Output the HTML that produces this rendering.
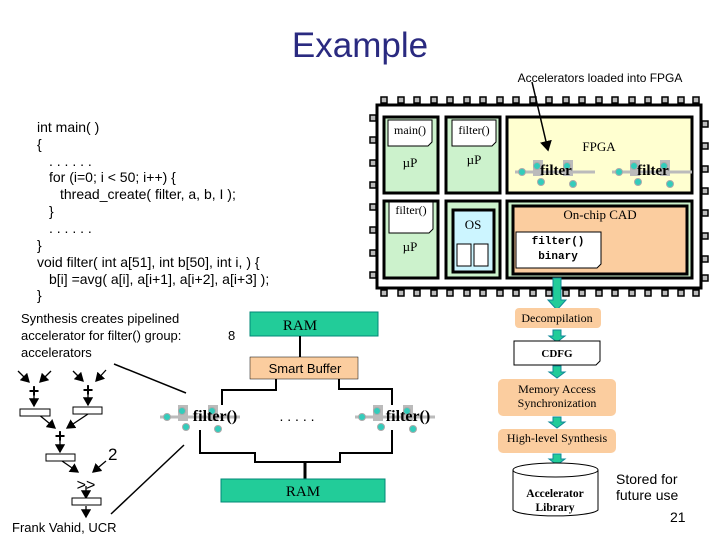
<!DOCTYPE html>
<html><head><meta charset="utf-8"><style>
html,body{margin:0;padding:0;background:#fff;}
svg{display:block;}
text{font-family:"Liberation Sans",sans-serif;}
text.s{font-family:"Liberation Serif",serif;}
text.m{font-family:"Liberation Mono",monospace;}
</style></head><body>
<svg width="720" height="540" viewBox="0 0 720 540" xmlns="http://www.w3.org/2000/svg">
<defs>
<marker id="ah" markerWidth="8" markerHeight="8" refX="6" refY="4" orient="auto"><path d="M0,0 L7,4 L0,8 z" fill="#000"/></marker>
<g id="fnode">
  <rect x="-22" y="-10" width="10" height="16" fill="#bbb"/>
  <rect x="8" y="-10" width="10" height="16" fill="#bbb"/>
  <line x1="-40" y1="2" x2="40" y2="2" stroke="#bbb" stroke-width="3"/>
  <circle cx="-33" cy="2" r="3.5" fill="#3cb" stroke="#aaa"/>
  <circle cx="-18" cy="-4" r="3.5" fill="#3cb" stroke="#aaa"/>
  <circle cx="-14" cy="12" r="3.5" fill="#3cb" stroke="#aaa"/>
  <circle cx="12" cy="-4" r="3.5" fill="#3cb" stroke="#aaa"/>
  <circle cx="18" cy="14" r="3.5" fill="#3cb" stroke="#aaa"/>
</g>
</defs>

<text x="360" y="57" font-size="35" fill="#2a2a80" text-anchor="middle">Example</text>
<text x="600" y="82" font-size="12" text-anchor="middle">Accelerators loaded into FPGA</text>

<g font-size="14">
<text x="37" y="132">int main( )</text>
<text x="37" y="149">{</text>
<text x="49" y="166">. . . . . .</text>
<text x="49" y="182">for (i=0; i &lt; 50; i++) {</text>
<text x="60" y="199">thread_create( filter, a, b, I );</text>
<text x="49" y="216">}</text>
<text x="49" y="233">. . . . . .</text>
<text x="37" y="250">}</text>
<text x="37" y="267">void filter( int a[51], int b[50], int i, ) {</text>
<text x="49" y="284">b[i] =avg( a[i], a[i+1], a[i+2], a[i+3] );</text>
<text x="37" y="300">}</text>
</g>

<g fill="#bbb" stroke="#000" stroke-width="1.5">
<g id="toppins">
<rect x="381" y="97" width="6" height="6"/><rect x="398" y="97" width="6" height="6"/><rect x="414" y="97" width="6" height="6"/><rect x="431" y="97" width="6" height="6"/><rect x="447" y="97" width="6" height="6"/><rect x="464" y="97" width="6" height="6"/><rect x="480" y="97" width="6" height="6"/><rect x="497" y="97" width="6" height="6"/><rect x="513" y="97" width="6" height="6"/><rect x="530" y="97" width="6" height="6"/><rect x="546" y="97" width="6" height="6"/><rect x="563" y="97" width="6" height="6"/><rect x="579" y="97" width="6" height="6"/><rect x="596" y="97" width="6" height="6"/><rect x="612" y="97" width="6" height="6"/><rect x="629" y="97" width="6" height="6"/><rect x="645" y="97" width="6" height="6"/><rect x="662" y="97" width="6" height="6"/><rect x="678" y="97" width="6" height="6"/><rect x="693" y="97" width="6" height="6"/>
</g>
<use href="#toppins" y="193"/>
<rect x="370" y="115" width="6" height="6"/><rect x="370" y="137" width="6" height="6"/><rect x="370" y="160" width="6" height="6"/><rect x="370" y="182" width="6" height="6"/><rect x="370" y="204" width="6" height="6"/><rect x="370" y="227" width="6" height="6"/><rect x="370" y="250" width="6" height="6"/><rect x="370" y="272" width="6" height="6"/>
<rect x="702" y="121" width="6" height="6"/><rect x="702" y="143" width="6" height="6"/><rect x="702" y="166" width="6" height="6"/><rect x="702" y="188" width="6" height="6"/><rect x="702" y="210" width="6" height="6"/><rect x="702" y="233" width="6" height="6"/><rect x="702" y="256" width="6" height="6"/><rect x="702" y="275" width="6" height="6"/>
</g>
<rect x="377" y="105" width="324" height="183" fill="#fff" stroke="#000" stroke-width="3"/>

<g stroke="#000" stroke-width="3">
<rect x="384" y="117" width="54" height="76" fill="#ccf2cc"/>
<rect x="446" y="117" width="54" height="76" fill="#ccf2cc"/>
<rect x="507" y="117" width="185" height="76" fill="#ffffd0"/>
<rect x="384" y="201" width="54" height="77" fill="#ccf2cc"/>
<rect x="446" y="201" width="54" height="77" fill="#ccf2cc"/>
<rect x="453" y="210" width="41" height="62" fill="#ccf5ff"/>
<rect x="507" y="201" width="185" height="77" fill="#ccf2cc"/>
<rect x="513" y="206" width="174" height="68" fill="#fbcd9f"/>
</g>
<g fill="#fff" stroke="#000" stroke-width="1">
<path d="M388,120 H432 V142 L428,146 H388 Z"/>
<path d="M452,120 H496 V142 L492,146 H452 Z"/>
<path d="M389,202 H433 V229 L429,233 H389 Z"/>
<path d="M516,232 H601 V264 L597,268 H516 Z"/>
<rect x="457" y="244" width="14" height="22"/><rect x="474" y="244" width="14" height="22"/>
</g>
<g font-size="12" text-anchor="middle">
<text x="410" y="134" class="s">main()</text>
<text x="474" y="134" class="s">filter()</text>
<text x="411" y="214" class="s">filter()</text>
<text x="410" y="167" class="s" font-size="13">µP</text>
<text x="474" y="164" class="s" font-size="13">µP</text>
<text x="410" y="251" class="s" font-size="13">µP</text>
<text x="473" y="229" class="s" font-size="13">OS</text>
<text x="599" y="151" class="s" font-size="13">FPGA</text>
<text x="600" y="219" class="s" font-size="13">On-chip CAD</text>
</g>
<text x="558" y="244" class="m" font-size="11" font-weight="bold" text-anchor="middle">filter()</text>
<text x="558" y="259" class="m" font-size="11" font-weight="bold" text-anchor="middle">binary</text>
<use href="#fnode" x="555" y="170"/>
<use href="#fnode" x="652" y="170"/>
<text x="556" y="175" class="s" font-size="15" font-weight="bold" text-anchor="middle">filter</text>
<text x="653" y="175" class="s" font-size="15" font-weight="bold" text-anchor="middle">filter</text>
<line x1="532" y1="82" x2="548" y2="150" stroke="#000" stroke-width="1.5" marker-end="url(#ah)"/>

<g fill="#2c9" stroke="#189">
<path d="M553,278 H561 V300 H566 L557,310 L548,300 H553 Z"/>
<path d="M553,330 H561 V336 H565 L557,342 L549,336 H553 Z"/>
<path d="M553,366 H561 V372 H565 L557,378 L549,372 H553 Z"/>
<path d="M553,417 H561 V422 H565 L557,428 L549,422 H553 Z"/>
<path d="M553,454 H561 V459 H565 L557,465 L549,459 H553 Z"/>
</g>
<g fill="#fbcd9f">
<rect x="515" y="308" width="86" height="20" rx="4"/>
<rect x="498" y="379" width="118" height="37" rx="5"/>
<rect x="498" y="429" width="118" height="24" rx="5"/>
</g>
<path d="M514,341 H600 V361 L596,365 H514 Z" fill="#fff" stroke="#000"/>
<g text-anchor="middle" font-size="12">
<text x="557" y="322" class="s">Decompilation</text>
<text x="557" y="357" class="s" font-weight="bold" font-size="11">CDFG</text>
<text x="557" y="393" class="s">Memory Access</text>
<text x="557" y="407" class="s">Synchronization</text>
<text x="557" y="442" class="s">High-level Synthesis</text>
</g>
<path d="M513,470 V510 A43,7 0 0 0 598,510 V470" fill="#fff" stroke="#000"/>
<ellipse cx="555.5" cy="470" rx="42.5" ry="7" fill="#fff" stroke="#000"/>
<text x="555" y="497" class="s" font-size="11.5" font-weight="bold" text-anchor="middle">Accelerator</text>
<text x="555" y="511" class="s" font-size="11.5" font-weight="bold" text-anchor="middle">Library</text>
<text x="616" y="484" font-size="14">Stored for</text>
<text x="616" y="500" font-size="14">future use</text>
<text x="670" y="522" font-size="14">21</text>

<text x="21" y="323" font-size="13">Synthesis creates pipelined</text>
<text x="21" y="340" font-size="13">accelerator for filter() group:</text>
<text x="21" y="357" font-size="13">accelerators</text>
<text x="228" y="340" font-size="13">8</text>
<rect x="250" y="312" width="128" height="24" fill="#2c9" stroke="#087"/>
<text x="300" y="330" class="s" font-size="15" text-anchor="middle">RAM</text>
<line x1="300" y1="336" x2="300" y2="357" stroke="#000" stroke-width="2"/>
<rect x="250" y="357" width="108" height="22" fill="#fbcd9f" stroke="#000" stroke-width="0.5"/>
<text x="305" y="373" font-size="13" text-anchor="middle">Smart Buffer</text>
<polyline points="222,405 222,390 276,390 276,379" fill="none" stroke="#000" stroke-width="2"/>
<polyline points="339,379 339,389 392,389 392,405" fill="none" stroke="#000" stroke-width="2"/>
<polyline points="200,430 200,453 255,453 255,462 340,462 340,453 392,453 392,430" fill="none" stroke="#000" stroke-width="2"/>
<line x1="305" y1="462" x2="305" y2="479" stroke="#000" stroke-width="3"/>
<rect x="221" y="479" width="164" height="23" fill="#2c9" stroke="#087"/>
<text x="303" y="496" class="s" font-size="15" text-anchor="middle">RAM</text>
<use href="#fnode" x="200" y="415"/>
<use href="#fnode" x="395" y="415"/>
<text x="215" y="421" class="s" font-size="16" font-weight="bold" text-anchor="middle">filter()</text>
<text x="408" y="421" class="s" font-size="16" font-weight="bold" text-anchor="middle">filter()</text>
<text x="297" y="421" font-size="14" text-anchor="middle">. . . . .</text>
<line x1="114" y1="364" x2="186" y2="393" stroke="#000" stroke-width="1.5"/>
<line x1="111" y1="514" x2="184" y2="445" stroke="#000" stroke-width="1.5"/>

<g stroke="#000" stroke-width="1.3" fill="none" marker-end="url(#ah)">
<line x1="18" y1="371" x2="29" y2="382"/><line x1="51" y1="371" x2="40" y2="382"/>
<line x1="73" y1="371" x2="83" y2="381"/><line x1="106" y1="370" x2="96" y2="381"/>
<line x1="34" y1="394" x2="34" y2="406"/><line x1="88" y1="393" x2="88" y2="405"/>
<line x1="38" y1="414" x2="55" y2="428"/><line x1="88" y1="414" x2="67" y2="428"/>
<line x1="60" y1="440" x2="60" y2="452"/>
<line x1="62" y1="461" x2="78" y2="472"/><line x1="106" y1="461" x2="93" y2="472"/>
<line x1="86" y1="486" x2="86" y2="498"/>
<line x1="86" y1="506" x2="86" y2="517"/>
</g>
<g fill="#fff" stroke="#000">
<rect x="20" y="409" width="30" height="7"/><rect x="73" y="407" width="29" height="7"/>
<rect x="46" y="454" width="29" height="7"/><rect x="72" y="498" width="29" height="7"/>
</g>
<g font-size="18" font-weight="bold" text-anchor="middle">
<text x="34" y="397">+</text><text x="88" y="396">+</text><text x="60" y="442">+</text>
</g>
<text x="108" y="460" font-size="17">2</text>
<text x="86" y="490" font-size="16" text-anchor="middle">&gt;&gt;</text>
<text x="12" y="532" font-size="13">Frank Vahid, UCR</text>
</svg>
</body></html>
